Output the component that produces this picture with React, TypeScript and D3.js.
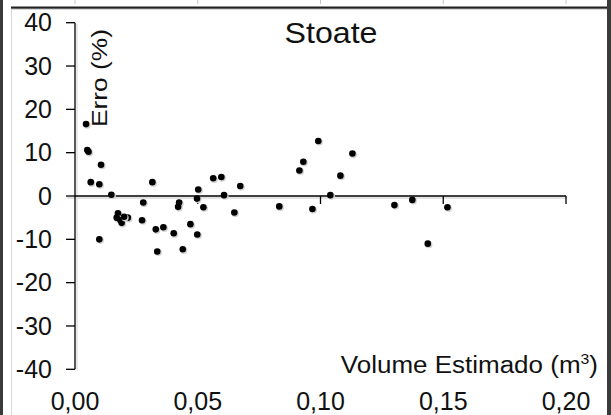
import React from "react";
import * as d3 from "d3";

const volume: number[] = [
  0.0045, 0.005, 0.0055, 0.0064, 0.0106, 0.0099, 0.0099, 0.0148,
  0.0175, 0.017, 0.0185, 0.019, 0.0215, 0.02,
  0.0278, 0.0273, 0.0315, 0.0329, 0.0335, 0.036, 0.0402, 0.0424, 0.042,
  0.0439, 0.047, 0.0502, 0.0497, 0.0498, 0.0523, 0.0563, 0.0596, 0.0607,
  0.0649, 0.0673, 0.0832, 0.0914, 0.093, 0.0967, 0.0991, 0.104, 0.1081,
  0.113, 0.1301, 0.1374, 0.1437, 0.1517,
];
const erro: number[] = [
  16.6, 10.6, 10.2, 3.2, 7.2, 2.7, -10.0, 0.3,
  -4.0, -5.0, -5.6, -6.2, -5.0, -4.8,
  -1.5, -5.6, 3.2, -7.7, -12.8, -7.2, -8.6, -1.5, -2.5,
  -12.3, -6.5, 1.5, -0.6, -8.9, -2.6, 4.1, 4.4, 0.2,
  -3.8, 2.3, -2.4, 5.9, 7.9, -3.0, 12.7, 0.2, 4.7,
  9.8, -2.1, -0.9, -11.0, -2.6,
];
const xTicks: number[] = [0, 0.05, 0.1, 0.15, 0.2];
const xTickLabels: string[] = ["0,00", "0,05", "0,10", "0,15", "0,20"];
const yTicks: number[] = [40, 30, 20, 10, 0, -10, -20, -30, -40];

const W = 611;
const H = 415;
const FONT = "'Liberation Sans', Arial, sans-serif";

export default function App() {
  const x = d3.scaleLinear().domain([0, 0.2]).range([75, 566]);
  const y = d3.scaleLinear().domain([-40, 40]).range([369.3, 22.7]);
  const y0 = y(0);

  return (
    <svg
      width={W}
      height={H}
      style={{ position: "absolute", left: 0, top: 0, background: "#fff" }}
    >
      <rect x={0} y={0} width={W} height={H} fill="#fff" />
      {/* remnants of chart above */}
      {xTicks.map((t, i) => (
        <line key={"r" + i} x1={x(t)} x2={x(t)} y1={0} y2={4} stroke="#c8c8c8" strokeWidth={1} />
      ))}
      {/* frame */}
      <rect x={0} y={0} width={3} height={H} fill="#3a3a3a" />
      <rect x={607} y={0} width={4} height={H} fill="#3a3a3a" />
      <rect x={11} y={6.5} width={596} height={2.2} fill="#222" />
      <line x1={11} x2={607} y1={9.5} y2={9.5} stroke="#d8d8d8" strokeWidth={1} />
      <line x1={11.5} x2={11.5} y1={9} y2={H} stroke="#d8d8d8" strokeWidth={1} />

      {/* axis shadows */}
      <line x1={67} x2={567} y1={y0 + 2} y2={y0 + 2} stroke="#dadada" strokeWidth={1.5} />
      <line x1={77} x2={77} y1={y(40) + 1} y2={y(-40) + 1} stroke="#e2e2e2" strokeWidth={1.5} />

      {/* y axis */}
      <line x1={75} x2={75} y1={y(40)} y2={y(-40)} stroke="#000" strokeWidth={1.3} />
      {yTicks.map((t) => (
        <g key={"y" + t}>
          <line x1={66} x2={75} y1={y(t)} y2={y(t)} stroke="#000" strokeWidth={1.3} />
          <text
            x={52}
            y={y(t)}
            dy="0.35em"
            textAnchor="end"
            fontFamily={FONT}
            fontSize={25}
            fill="#111"
          >
            {String(t)}
          </text>
        </g>
      ))}

      {/* x axis */}
      <line x1={75} x2={566} y1={y0} y2={y0} stroke="#000" strokeWidth={1.3} />
      {xTicks.map((t, i) => (
        <g key={"x" + i}>
          {i > 0 && (
            <line x1={x(t)} x2={x(t)} y1={y0} y2={y0 + 8} stroke="#000" strokeWidth={1.3} />
          )}
          <text
            x={x(t)}
            y={410}
            textAnchor="middle"
            fontFamily={FONT}
            fontSize={25}
            fill="#111"
          >
            {xTickLabels[i]}
          </text>
        </g>
      ))}

      {/* titles */}
      <text
        x={331}
        y={43}
        textAnchor="middle"
        fontFamily={FONT}
        fontSize={29}
        textLength={93}
        lengthAdjust="spacingAndGlyphs"
        fill="#111"
      >
        Stoate
      </text>
      <text
        transform="translate(107,78) rotate(-90)"
        textAnchor="middle"
        fontFamily={FONT}
        fontSize={22}
        textLength={98}
        lengthAdjust="spacingAndGlyphs"
        fill="#111"
      >
        Erro (%)
      </text>
      <g transform="translate(598,373) scale(1.13,1)">
        <text
          x={0}
          y={0}
          textAnchor="end"
          fontFamily={FONT}
          fontSize={23}
          fill="#111"
        >
          Volume Estimado (m<tspan dy={-9} fontSize={14}>3</tspan>
          <tspan dy={9}>)</tspan>
        </text>
      </g>

      {/* points */}
      {volume.map((v, i) => (
        <g key={"p" + i}>
          <circle cx={x(v) + 1} cy={y(erro[i]) + 1} r={3.6} fill="#d0d0d0" />
          <circle cx={x(v)} cy={y(erro[i])} r={3.3} fill="#000" />
        </g>
      ))}
    </svg>
  );
}
